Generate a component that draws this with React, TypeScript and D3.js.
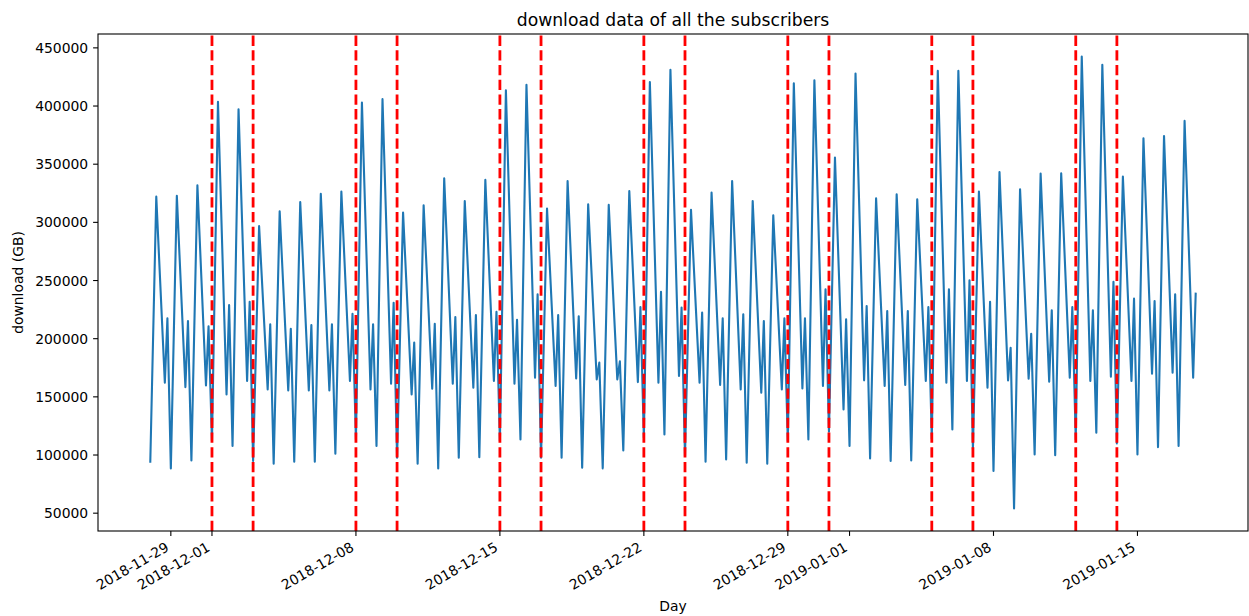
import React from "react";
import * as d3 from "d3";

// readings start at midnight of this day, four per day
const startDay = "2018-11-28";
const slotHours = [0, 7, 17, 20];

// one row per day: 00h, 07h, 17h, 20h
const downloads = [
  93300, 322100, 162100, 217500, // 11-28
  88500, 322900, 158400, 215200,
  95400, 331900, 159900, 210600,
  112000, 403600, 152100, 228900, // 12-01
  107700, 397200, 163600, 231800,
  94800, 296900, 156400, 212300,
  92500, 309500, 155600, 208600,
  94200, 317500, 155600, 211800,
  94200, 324500, 155600, 212300,
  101100, 326400, 163600, 221500,
  113400, 403000, 156400, 212300, // 12-08
  107700, 405900, 161300, 230900,
  97600, 308400, 152100, 196600,
  92500, 314700, 157000, 212900,
  88500, 337900, 161300, 218600,
  97600, 318400, 157900, 220300,
  98200, 336500, 163600, 223200,
  112000, 413600, 161300, 216300, // 12-15
  113400, 418200, 166500, 238100,
  97600, 311800, 159300, 220300,
  97600, 335600, 165900, 219200,
  89000, 315500, 165000, 179500,
  88500, 315000, 165000, 180500,
  103900, 327000, 162700, 227200,
  114900, 420700, 162200, 240400, // 12-22
  117700, 431100, 167900, 226700,
  99100, 310700, 162200, 222400,
  94200, 325600, 160200, 217500,
  96200, 335600, 156400, 220900,
  93300, 318400, 153600, 215200,
  92500, 306100, 156400, 217500,
  112000, 419600, 157300, 217500, // 12-29
  113400, 422200, 159300, 242400,
  120000, 355700, 139200, 216600,
  107700, 427900, 164200, 228100, // 01-01
  97100, 320700, 159300, 223800,
  94800, 324100, 160200, 223800,
  95400, 319800, 163600, 227200,
  114000, 430200, 162200, 242400, // 01-05
  122000, 430200, 163600, 250200,
  105000, 326400, 157900, 231800,
  86200, 343300, 164200, 192200,
  54100, 328400, 165600, 204300,
  100500, 341900, 163000, 224400,
  99900, 342200, 166500, 227200,
  113400, 442500, 163600, 224400, // 01-12
  119200, 435400, 167300, 249000,
  110000, 339300, 163600, 234400,
  100500, 372300, 169900, 232400,
  106800, 374300, 170800, 238100,
  107700, 387200, 166500, 239600, // 01-17
];

// saturday / monday markers
const weekendMarks = [
  "2018-12-01", "2018-12-03", "2018-12-08", "2018-12-10",
  "2018-12-15", "2018-12-17", "2018-12-22", "2018-12-24",
  "2018-12-29", "2018-12-31", "2019-01-05", "2019-01-07",
  "2019-01-12", "2019-01-14",
];

const tickDates = [
  "2018-11-29", "2018-12-01", "2018-12-08", "2018-12-15", "2018-12-22",
  "2018-12-29", "2019-01-01", "2019-01-08", "2019-01-15",
];
const yTicks = [50000, 100000, 150000, 200000, 250000, 300000, 350000, 400000, 450000];

const W = 1249;
const H = 616;
const M = { left: 98, right: 1, top: 34, bottom: 85 };
const FONT = "DejaVu Sans, sans-serif";

export default function App() {
  const parse = d3.utcParse("%Y-%m-%d");
  const t0 = parse(startDay)!;

  const data = downloads.map((v, i) => ({
    t: d3.utcHour.offset(d3.utcDay.offset(t0, Math.floor(i / 4)), slotHours[i % 4]),
    v,
  }));

  const [tMin, tMax] = d3.extent(data, (d) => d.t) as [Date, Date];
  const tPad = (+tMax - +tMin) * 0.05;
  const x = d3
    .scaleUtc()
    .domain([new Date(+tMin - tPad), new Date(+tMax + tPad)])
    .range([M.left, W - M.right]);

  const [vMin, vMax] = d3.extent(data, (d) => d.v) as [number, number];
  const vPad = (vMax - vMin) * 0.05;
  const y = d3
    .scaleLinear()
    .domain([vMin - vPad, vMax + vPad])
    .range([H - M.bottom, M.top]);

  const line = d3
    .line<{ t: Date; v: number }>()
    .x((d) => x(d.t))
    .y((d) => y(d.v));

  const bottom = H - M.bottom;
  const cx = (M.left + W - M.right) / 2;

  return (
    <svg
      width={W}
      height={H}
      style={{ position: "absolute", left: 0, top: 0, background: "#fff" }}
      fontFamily={FONT}
    >
      <rect x={0} y={0} width={W} height={H} fill="#fff" />

      <path
        d={line(data) || ""}
        fill="none"
        stroke="#1f77b4"
        strokeWidth={2.1}
        strokeLinejoin="round"
      />

      {weekendMarks.map((s) => {
        const px = x(parse(s)!);
        return (
          <line
            key={s}
            x1={px}
            x2={px}
            y1={bottom}
            y2={M.top}
            stroke="#ff0000"
            strokeWidth={2.8}
            strokeDasharray="10.3 4.4"
          />
        );
      })}

      <rect
        x={M.left}
        y={M.top}
        width={W - M.right - M.left}
        height={bottom - M.top}
        fill="none"
        stroke="#000"
        strokeWidth={1.1}
      />

      {yTicks.map((v) => (
        <g key={v} transform={`translate(0,${y(v)})`}>
          <line x1={M.left - 4.9} x2={M.left} stroke="#000" strokeWidth={1.1} />
          <text x={M.left - 9.8} dy="0.36em" textAnchor="end" fontSize={13.9} fill="#000">
            {v}
          </text>
        </g>
      ))}

      {tickDates.map((s) => {
        const px = x(parse(s)!);
        return (
          <g key={s}>
            <line x1={px} x2={px} y1={bottom} y2={bottom + 4.9} stroke="#000" strokeWidth={1.1} />
            <text
              transform={`translate(${px - 1},${bottom + 19}) rotate(-30)`}
              textAnchor="end"
              fontSize={13.9}
              fill="#000"
            >
              {s}
            </text>
          </g>
        );
      })}

      <text x={cx} y={25.5} textAnchor="middle" fontSize={17.2} fill="#000">
        download data of all the subscribers
      </text>
      <text x={cx} y={611} textAnchor="middle" fontSize={13.9} fill="#000">
        Day
      </text>
      <text
        transform={`translate(23,${(M.top + bottom) / 2}) rotate(-90)`}
        textAnchor="middle"
        fontSize={13.9}
        fill="#000"
      >
        download (GB)
      </text>
    </svg>
  );
}
